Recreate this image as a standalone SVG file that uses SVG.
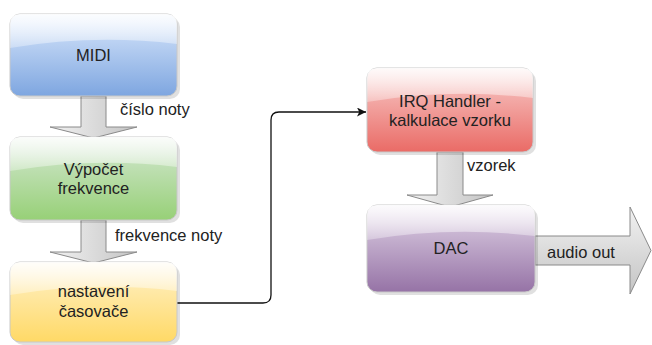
<svg xmlns="http://www.w3.org/2000/svg" width="652" height="345" viewBox="0 0 652 345">
<style>
.box{stroke:#c8c8c8;stroke-width:1}
.shadow{fill:#000;opacity:0.12}
.glass{fill:url(#glass)}
.t{font-family:"Liberation Sans",Arial,Helvetica,sans-serif;font-size:16.5px;fill:#222;text-anchor:middle}
.lbl{font-family:"Liberation Sans",Arial,Helvetica,sans-serif;font-size:16.5px;fill:#222}
.barrow{stroke:#8a8a8a;stroke-width:1}
.conn{fill:none;stroke:#111;stroke-width:1.3}
</style>
<defs>
<linearGradient id="gBlue" x1="0" y1="0" x2="0" y2="1"><stop offset="0" stop-color="#dae8fc"/><stop offset="1" stop-color="#7ea6e0"/></linearGradient>
<linearGradient id="gGreen" x1="0" y1="0" x2="0" y2="1"><stop offset="0" stop-color="#d5e8d4"/><stop offset="1" stop-color="#97d077"/></linearGradient>
<linearGradient id="gYellow" x1="0" y1="0" x2="0" y2="1"><stop offset="0" stop-color="#fff2cc"/><stop offset="1" stop-color="#ffd966"/></linearGradient>
<linearGradient id="gRed" x1="0" y1="0" x2="0" y2="1"><stop offset="0" stop-color="#f8cecc"/><stop offset="1" stop-color="#ea6b66"/></linearGradient>
<linearGradient id="gPurple" x1="0" y1="0" x2="0" y2="1"><stop offset="0" stop-color="#e1d5e7"/><stop offset="1" stop-color="#9673a6"/></linearGradient>
<linearGradient id="glass" x1="0" y1="0" x2="0" y2="1"><stop offset="0" stop-color="#fff" stop-opacity="0.9"/><stop offset="1" stop-color="#fff" stop-opacity="0.3"/></linearGradient>
<linearGradient id="gArrV" x1="0" y1="0" x2="1" y2="0"><stop offset="0" stop-color="#f2f2f2"/><stop offset="1" stop-color="#c4c4c4"/></linearGradient>
<linearGradient id="gArrH" x1="0" y1="0" x2="0" y2="1"><stop offset="0" stop-color="#f2f2f2"/><stop offset="1" stop-color="#c4c4c4"/></linearGradient>
<marker id="ah" viewBox="0 0 10 10" refX="10" refY="5" markerWidth="9" markerHeight="9" markerUnits="userSpaceOnUse" orient="auto"><path d="M0,0 L10,5 L0,10 L2.5,5 Z" fill="#111"/></marker>
</defs>

<g id="connectors">
<polygon class="barrow" fill="url(#gArrV)" points="81,96 106,96 106,127 137,127 93.5,138 50,127 81,127"/>
<polygon class="barrow" fill="url(#gArrV)" points="81,220 106,220 106,252 137,252 93.5,263 50,252 81,252"/>
<polygon class="barrow" fill="url(#gArrV)" points="437,152 463,152 463,195 493,195 450,207 407,195 437,195"/>
<polygon class="barrow" fill="url(#gArrH)" points="535,236 630,236 630,207 651,250.5 630,294 630,265 535,265"/>
<path class="conn" d="M177,303 H263 Q271,303 271,295 V120 Q271,112 279,112 H366" marker-end="url(#ah)"/>
<text class="lbl" x="120" y="115">číslo noty</text>
<text class="lbl" x="115" y="241">frekvence noty</text>
<text class="lbl" x="467" y="171">vzorek</text>
<text class="lbl" x="547" y="258">audio out</text>
</g>

<g id="midi">
<rect class="shadow" x="13" y="17" width="167" height="82" rx="10"/>
<rect class="box" fill="url(#gBlue)" x="10" y="14" width="167" height="82" rx="10"/>
<path class="glass" d="M10,24 Q10,14 20,14 H167 Q177,14 177,24 V44 Q93.5,34 10,48 Z"/>
<text class="t" x="93.5" y="61">MIDI</text>
</g>

<g id="vypocet">
<rect class="shadow" x="13" y="140" width="167" height="83" rx="10"/>
<rect class="box" fill="url(#gGreen)" x="10" y="137" width="167" height="83" rx="10"/>
<path class="glass" d="M10,147 Q10,137 20,137 H167 Q177,137 177,147 V167 Q93.5,157 10,171 Z"/>
<text class="t" x="93.5" y="175">Výpočet</text>
<text class="t" x="93.5" y="194">frekvence</text>
</g>

<g id="nastaveni">
<rect class="shadow" x="13" y="265" width="167" height="80" rx="10"/>
<rect class="box" fill="url(#gYellow)" x="10" y="262" width="167" height="80" rx="10"/>
<path class="glass" d="M10,272 Q10,262 20,262 H167 Q177,262 177,272 V291 Q93.5,281 10,295 Z"/>
<text class="t" x="93.5" y="297">nastavení</text>
<text class="t" x="93.5" y="317">časovače</text>
</g>

<g id="irq">
<rect class="shadow" x="370" y="71" width="166" height="84" rx="10"/>
<rect class="box" fill="url(#gRed)" x="367" y="68" width="166" height="84" rx="10"/>
<path class="glass" d="M367,78 Q367,68 377,68 H523 Q533,68 533,78 V98 Q450,88 367,102 Z"/>
<text class="t" x="450" y="107">IRQ Handler -</text>
<text class="t" x="450" y="126">kalkulace vzorku</text>
</g>

<g id="dac">
<rect class="shadow" x="370" y="208" width="168" height="87" rx="10"/>
<rect class="box" fill="url(#gPurple)" x="367" y="205" width="168" height="87" rx="10"/>
<path class="glass" d="M367,215 Q367,205 377,205 H525 Q535,205 535,215 V236 Q451,226 367,240 Z"/>
<text class="t" x="451" y="254">DAC</text>
</g>
</svg>
